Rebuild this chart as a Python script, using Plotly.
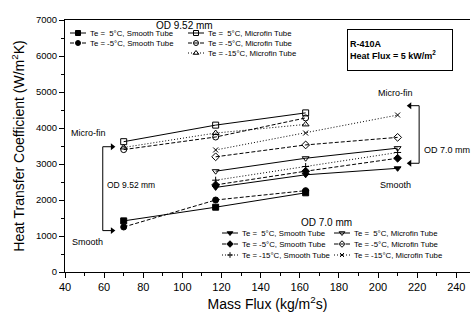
import plotly.graph_objects as go

# Mass flux (kg/m2s) for each tube size
mass_flux_952 = [70, 117, 163]
mass_flux_70 = [117, 163, 210]

# OD 9.52 mm heat transfer coefficients (W/m2K)
htc_952_smooth_p5 = [1420, 1800, 2200]
htc_952_smooth_m5 = [1250, 2000, 2260]
htc_952_mf_p5 = [3620, 4080, 4420]
htc_952_mf_m5 = [3400, 3750, 4280]
htc_952_mf_m15 = [3460, 3860, 4100]

# OD 7.0 mm heat transfer coefficients (W/m2K)
htc_70_smooth_p5 = [2350, 2700, 2880]
htc_70_smooth_m5 = [2420, 2800, 3160]
htc_70_smooth_m15 = [2550, 2930, 3320]
htc_70_mf_p5 = [2800, 3160, 3440]
htc_70_mf_m5 = [3200, 3530, 3740]
htc_70_mf_m15 = [3390, 3860, 4360]

label_smooth_p5 = "Te = \u00a05°C, Smooth Tube"
label_smooth_m5 = "Te = -5°C, Smooth Tube"
label_smooth_m15 = "Te = -15°C, Smooth Tube"
label_mf_p5 = "Te = \u00a05°C, Microfin Tube"
label_mf_m5 = "Te = -5°C, Microfin Tube"
label_mf_m15 = "Te = -15°C, Microfin Tube"

x_ticks = [40, 60, 80, 100, 120, 140, 160, 180, 200, 220, 240]
y_ticks = [0, 1000, 2000, 3000, 4000, 5000, 6000, 7000]

FONT = "Liberation Sans, Arial, sans-serif"
INK = "black"
DASH = {"solid": "solid", "dash": "4px,2px", "dot": "1px,2px"}

# key block layout, in figure pixels (overlay axis)
KEYS = {
    "952": dict(cols=[70, 188], rows=[33, 43, 53], title=("OD 9.52 mm", 184, 25)),
    "70": dict(cols=[222, 334], rows=[233, 244, 255], title=("OD 7.0 mm", 326, 222)),
}
KEY_LEN = 16
KEY_TEXT_GAP = 18

series = [
    dict(x=mass_flux_952, y=htc_952_smooth_p5, name=label_smooth_p5, dash="solid", symbol="square", key=("952", 0, 0)),
    dict(x=mass_flux_952, y=htc_952_smooth_m5, name=label_smooth_m5, dash="dash", symbol="circle", key=("952", 0, 1)),
    dict(x=mass_flux_952, y=htc_952_mf_p5, name=label_mf_p5, dash="solid", symbol="square-open", key=("952", 1, 0)),
    dict(x=mass_flux_952, y=htc_952_mf_m5, name=label_mf_m5, dash="dash", symbol="circle-open", key=("952", 1, 1)),
    dict(x=mass_flux_952, y=htc_952_mf_m15, name=label_mf_m15, dash="dot", symbol="triangle-up-open", key=("952", 1, 2)),
    dict(x=mass_flux_70, y=htc_70_smooth_p5, name=label_smooth_p5, dash="solid", symbol="triangle-down", key=("70", 0, 0)),
    dict(x=mass_flux_70, y=htc_70_smooth_m5, name=label_smooth_m5, dash="dash", symbol="diamond", key=("70", 0, 1)),
    dict(x=mass_flux_70, y=htc_70_smooth_m15, name=label_smooth_m15, dash="dot", symbol="cross-thin", key=("70", 0, 2)),
    dict(x=mass_flux_70, y=htc_70_mf_p5, name=label_mf_p5, dash="solid", symbol="triangle-down-open", key=("70", 1, 0)),
    dict(x=mass_flux_70, y=htc_70_mf_m5, name=label_mf_m5, dash="dash", symbol="diamond-open", key=("70", 1, 1)),
    dict(x=mass_flux_70, y=htc_70_mf_m15, name=label_mf_m15, dash="dot", symbol="x-thin", key=("70", 1, 2)),
]

fig = go.Figure()
annotations = []

for s in series:
    size = 5 if "thin" in s["symbol"] else 6
    marker = dict(symbol=s["symbol"], size=size, color=INK, line=dict(color=INK, width=1))
    fig.add_trace(go.Scatter(
        x=s["x"], y=s["y"], mode="lines+markers", name=s["name"],
        line=dict(color=INK, width=1, dash=DASH[s["dash"]]),
        marker=marker, showlegend=False,
    ))
    block, col, row = s["key"]
    kx = KEYS[block]["cols"][col]
    ky = KEYS[block]["rows"][row]
    fig.add_trace(go.Scatter(
        x=[kx, kx + KEY_LEN / 2, kx + KEY_LEN], y=[ky, ky, ky],
        xaxis="x2", yaxis="y2", mode="lines+markers", showlegend=False,
        line=dict(color=INK, width=1, dash=DASH[s["dash"]]),
        marker=dict(marker, size=size - 1, opacity=[0, 1, 0]),
        hoverinfo="skip",
    ))
    annotations.append(dict(
        x=kx + KEY_TEXT_GAP, y=ky, xref="x2", yref="y2", text=s["name"],
        showarrow=False, xanchor="left", yanchor="middle",
        font=dict(family=FONT, size=7.8, color=INK),
    ))

for block in KEYS.values():
    text, tx, ty = block["title"]
    annotations.append(dict(
        x=tx, y=ty, xref="x2", yref="y2", text=text, showarrow=False,
        xanchor="center", yanchor="middle", font=dict(family=FONT, size=10, color=INK),
    ))

# Conditions box
annotations.append(dict(
    x=0.696, y=0.966, xref="paper", yref="paper", xanchor="left", yanchor="top",
    text="<b>R-410A<br>Heat Flux = 5 kW/m<sup>2</sup></b>", showarrow=False, align="left",
    width=100, height=36, valign="middle", bordercolor=INK, borderwidth=1, borderpad=2,
    bgcolor="white", font=dict(family=FONT, size=9, color=INK),
))

# Tube-size labels
label_font = dict(family=FONT, size=9, color=INK)
annotations += [
    dict(x=52, y=3870, text="Micro-fin", showarrow=False, font=label_font),
    dict(x=51.5, y=840, text="Smooth", showarrow=False, font=label_font),
    dict(x=60.5, y=2420, text="OD 9.52 mm", showarrow=False, xanchor="left", font=dict(label_font, size=8.5)),
    dict(x=209, y=4970, text="Micro-fin", showarrow=False, font=label_font),
    dict(x=209, y=2420, text="Smooth", showarrow=False, font=label_font),
    dict(x=222.5, y=3390, text="OD 7.0 mm", showarrow=False, xanchor="left", font=label_font),
]

# Brackets grouping micro-fin and smooth results: (spine x, tip x, top y, bottom y)
brackets = [(59.3, 64.2, 3480, 1150), (221, 216.2, 4620, 3020)]
shapes = []
for x_spine, x_tip, y_top, y_bot in brackets:
    shapes.append(dict(
        type="path", xref="x", yref="y",
        path=f"M{x_tip},{y_top} L{x_spine},{y_top} L{x_spine},{y_bot} L{x_tip},{y_bot}",
        line=dict(color=INK, width=1),
    ))
    head = "triangle-right" if x_tip > x_spine else "triangle-left"
    fig.add_trace(go.Scatter(
        x=[x_tip, x_tip], y=[y_top, y_bot], mode="markers", showlegend=False,
        marker=dict(symbol=head, size=6, color=INK, line=dict(width=0)),
        hoverinfo="skip",
    ))

fig.update_layout(
    width=473, height=322,
    margin=dict(l=65, r=3, t=20, b=50),
    paper_bgcolor="white", plot_bgcolor="white",
    showlegend=False,
    font=dict(family=FONT, color=INK),
    xaxis=dict(
        range=[40, 247], tickvals=x_ticks, ticks="outside", ticklen=5, tickwidth=1,
        tickcolor=INK, showline=True, linecolor=INK, linewidth=1, mirror=True,
        showgrid=False, zeroline=False, tickfont=dict(family=FONT, size=11),
        minor=dict(dtick=10, ticks="outside", ticklen=3, tickcolor=INK),
        title=dict(text="Mass Flux (kg/m<sup>2</sup>s)", font=dict(family=FONT, size=14), standoff=6),
        automargin=False,
    ),
    yaxis=dict(
        range=[0, 7000], tickvals=y_ticks, ticks="outside", ticklen=5, tickwidth=1,
        tickcolor=INK, showline=True, linecolor=INK, linewidth=1,
        showgrid=False, zeroline=False, tickfont=dict(family=FONT, size=9.5),
        minor=dict(dtick=500, ticks="outside", ticklen=3, tickcolor=INK),
        title=dict(text="Heat Transfer Coefficient (W/m<sup>2</sup>K)", font=dict(family=FONT, size=14), standoff=8),
        automargin=False,
    ),
    xaxis2=dict(overlaying="x", range=[65, 470], visible=False, fixedrange=True),
    yaxis2=dict(overlaying="y", range=[272, 20], visible=False, fixedrange=True),
    annotations=annotations,
    shapes=shapes,
)

fig.write_html("out.html")
